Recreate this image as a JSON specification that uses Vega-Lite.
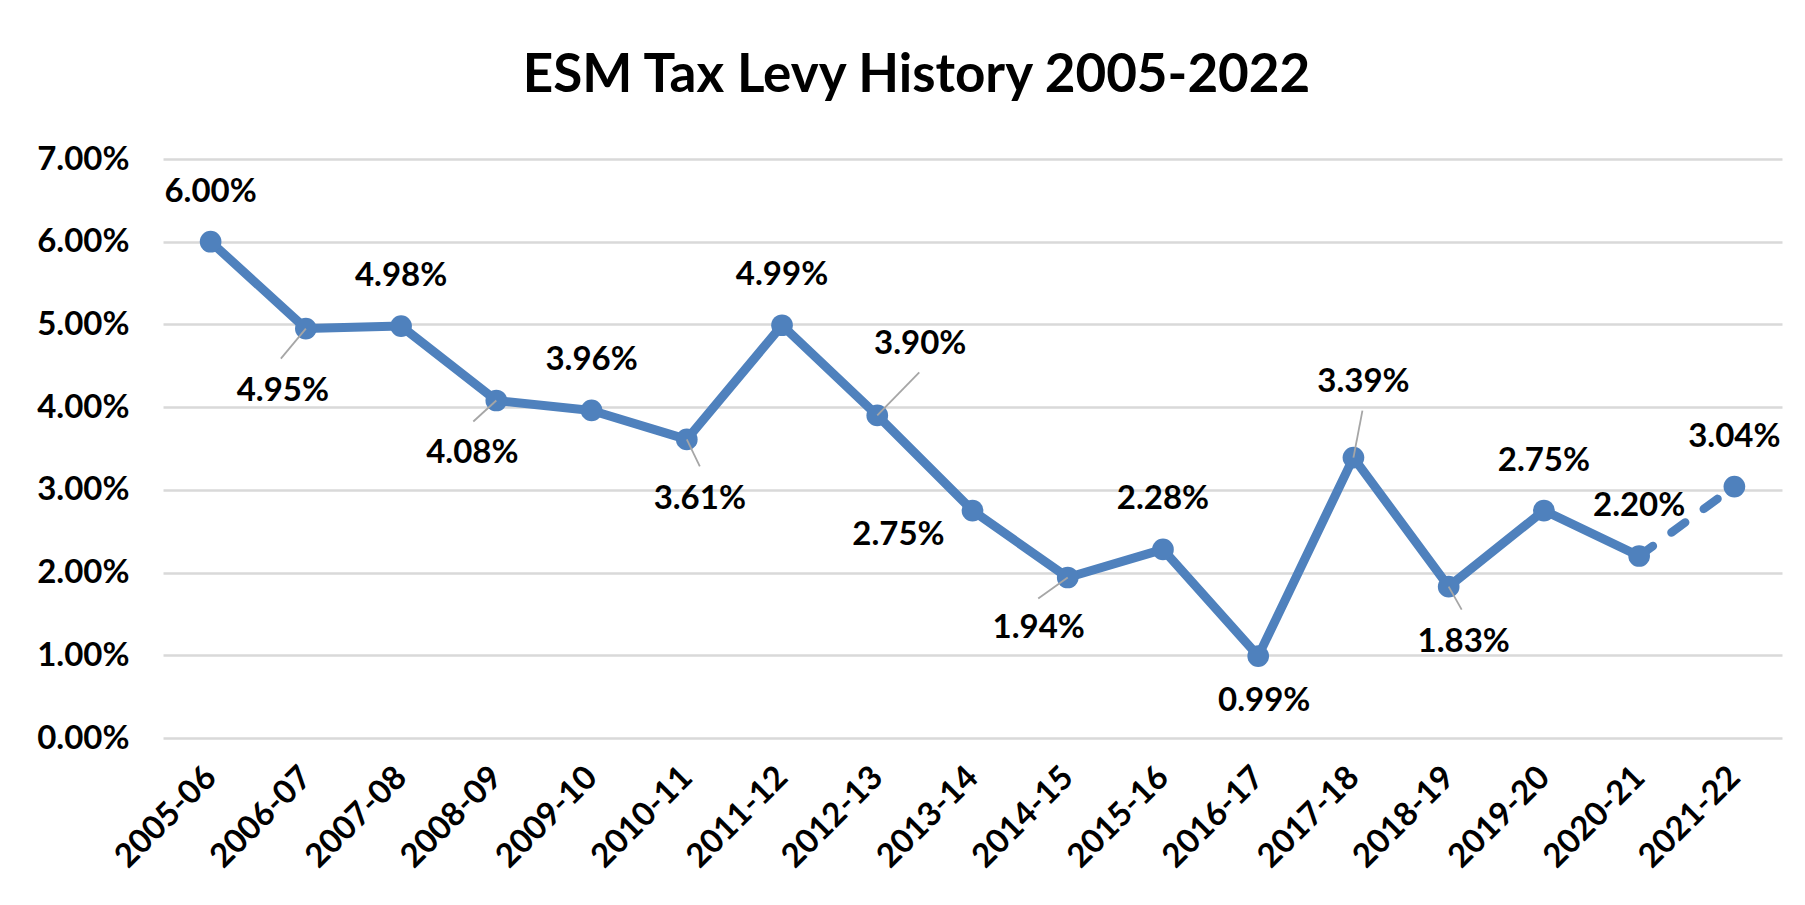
{
  "$schema": "https://vega.github.io/schema/vega-lite/v6.json",
  "width": 1619,
  "height": 579,
  "autosize": {"type": "none"},
  "padding": {"left": 163, "top": 159, "right": 23, "bottom": 167},
  "background": "white",
  "config": {"view": {"stroke": null}, "font": "Lato"},
  "title": {
    "text": "ESM Tax Levy History 2005-2022",
    "font": "Lato",
    "fontSize": 53,
    "fontWeight": "bold",
    "color": "black",
    "anchor": "middle",
    "dx": -56,
    "dy": 67,
    "offset": 65,
    "baseline": "alphabetic"
  },
  "data": {
    "values": [
      {"period": "2005-06", "rate": 0.0600},
      {"period": "2006-07", "rate": 0.0495},
      {"period": "2007-08", "rate": 0.0498},
      {"period": "2008-09", "rate": 0.0408},
      {"period": "2009-10", "rate": 0.0396},
      {"period": "2010-11", "rate": 0.0361},
      {"period": "2011-12", "rate": 0.0499},
      {"period": "2012-13", "rate": 0.0390},
      {"period": "2013-14", "rate": 0.0275},
      {"period": "2014-15", "rate": 0.0194},
      {"period": "2015-16", "rate": 0.0228},
      {"period": "2016-17", "rate": 0.0099},
      {"period": "2017-18", "rate": 0.0339},
      {"period": "2018-19", "rate": 0.0183},
      {"period": "2019-20", "rate": 0.0275},
      {"period": "2020-21", "rate": 0.0220},
      {"period": "2021-22", "rate": 0.0304}
    ]
  },
  "encoding": {
    "x": {
      "field": "period",
      "type": "ordinal",
      "sort": null,
      "scale": {"type": "point", "padding": 0.5},
      "axis": {
        "title": null,
        "labelAngle": -45,
        "labelAlign": "right",
        "labelBaseline": "middle",
        "labelFont": "Lato",
        "labelFontSize": 33,
        "labelFontWeight": "bold",
        "labelColor": "black",
        "ticks": false,
        "domain": false,
        "grid": false,
        "labelPadding": 34
      }
    },
    "y": {
      "field": "rate",
      "type": "quantitative",
      "scale": {"domain": [0, 0.07], "nice": false},
      "axis": {
        "title": null,
        "values": [0, 0.01, 0.02, 0.03, 0.04, 0.05, 0.06, 0.07],
        "format": ".2%",
        "labelFont": "Lato",
        "labelFontSize": 33,
        "labelFontWeight": "bold",
        "labelColor": "black",
        "gridColor": "#d9d9d9",
        "gridWidth": 2.5,
        "ticks": false,
        "domain": false,
        "labelPadding": 34
      }
    }
  },
  "layer": [
    {
      "transform": [{"filter": "datum.period != '2021-22'"}],
      "mark": {"type": "line", "color": "#4F81BD", "strokeWidth": 9, "strokeJoin": "round"}
    },
    {
      "transform": [{"filter": {"field": "period", "oneOf": ["2020-21", "2021-22"]}}],
      "mark": {"type": "line", "color": "#4F81BD", "strokeWidth": 8.5, "strokeCap": "round", "strokeDash": [17, 23]}
    },
    {
      "mark": {"type": "point", "filled": true, "color": "#4F81BD", "size": 470, "opacity": 1}
    },
    {
      "transform": [{"filter": {"field": "period", "oneOf": ["2006-07", "2008-09", "2010-11", "2012-13", "2014-15", "2017-18", "2018-19"]}}],
      "mark": {"type": "point", "filled": false, "stroke": "#a6a6a6", "strokeWidth": 1.8, "size": 10000, "opacity": 1},
      "encoding": {
        "shape": {
          "field": "period",
          "type": "nominal",
          "legend": null,
          "scale": {
            "domain": ["2006-07", "2008-09", "2010-11", "2012-13", "2014-15", "2017-18", "2018-19"],
            "range": ["M0,0L-0.5,0.6", "M0,0L-0.46,0.42", "M0,0L0.26,0.54", "M0,0L0.84,-0.86", "M0,0L-0.59,0.42", "M0,0L0.18,-0.94", "M0,0L0.26,0.46"]
          }
        }
      }
    },
    {
      "transform": [{"filter": {"field": "period", "oneOf": ["2005-06", "2007-08", "2009-10", "2011-12", "2015-16", "2019-20", "2020-21", "2021-22"]}}],
      "mark": {"type": "text", "font": "Lato", "fontSize": 33, "fontWeight": "bold", "color": "black", "dx": 0, "dy": -50},
      "encoding": {"text": {"field": "rate", "type": "quantitative", "format": ".2%"}}
    },
    {
      "transform": [{"filter": "datum.period == '2006-07'"}],
      "mark": {"type": "text", "font": "Lato", "fontSize": 33, "fontWeight": "bold", "color": "black", "dx": -23, "dy": 62},
      "encoding": {"text": {"field": "rate", "type": "quantitative", "format": ".2%"}}
    },
    {
      "transform": [{"filter": "datum.period == '2008-09'"}],
      "mark": {"type": "text", "font": "Lato", "fontSize": 33, "fontWeight": "bold", "color": "black", "dx": -24, "dy": 52},
      "encoding": {"text": {"field": "rate", "type": "quantitative", "format": ".2%"}}
    },
    {
      "transform": [{"filter": "datum.period == '2010-11'"}],
      "mark": {"type": "text", "font": "Lato", "fontSize": 33, "fontWeight": "bold", "color": "black", "dx": 13, "dy": 60},
      "encoding": {"text": {"field": "rate", "type": "quantitative", "format": ".2%"}}
    },
    {
      "transform": [{"filter": "datum.period == '2012-13'"}],
      "mark": {"type": "text", "font": "Lato", "fontSize": 33, "fontWeight": "bold", "color": "black", "dx": 43, "dy": -71},
      "encoding": {"text": {"field": "rate", "type": "quantitative", "format": ".2%"}}
    },
    {
      "transform": [{"filter": "datum.period == '2013-14'"}],
      "mark": {"type": "text", "font": "Lato", "fontSize": 33, "fontWeight": "bold", "color": "black", "dx": -74, "dy": 24},
      "encoding": {"text": {"field": "rate", "type": "quantitative", "format": ".2%"}}
    },
    {
      "transform": [{"filter": "datum.period == '2014-15'"}],
      "mark": {"type": "text", "font": "Lato", "fontSize": 33, "fontWeight": "bold", "color": "black", "dx": -29, "dy": 50},
      "encoding": {"text": {"field": "rate", "type": "quantitative", "format": ".2%"}}
    },
    {
      "transform": [{"filter": "datum.period == '2016-17'"}],
      "mark": {"type": "text", "font": "Lato", "fontSize": 33, "fontWeight": "bold", "color": "black", "dx": 6, "dy": 45},
      "encoding": {"text": {"field": "rate", "type": "quantitative", "format": ".2%"}}
    },
    {
      "transform": [{"filter": "datum.period == '2017-18'"}],
      "mark": {"type": "text", "font": "Lato", "fontSize": 33, "fontWeight": "bold", "color": "black", "dx": 10, "dy": -76},
      "encoding": {"text": {"field": "rate", "type": "quantitative", "format": ".2%"}}
    },
    {
      "transform": [{"filter": "datum.period == '2018-19'"}],
      "mark": {"type": "text", "font": "Lato", "fontSize": 33, "fontWeight": "bold", "color": "black", "dx": 15, "dy": 55},
      "encoding": {"text": {"field": "rate", "type": "quantitative", "format": ".2%"}}
    }
  ]
}
